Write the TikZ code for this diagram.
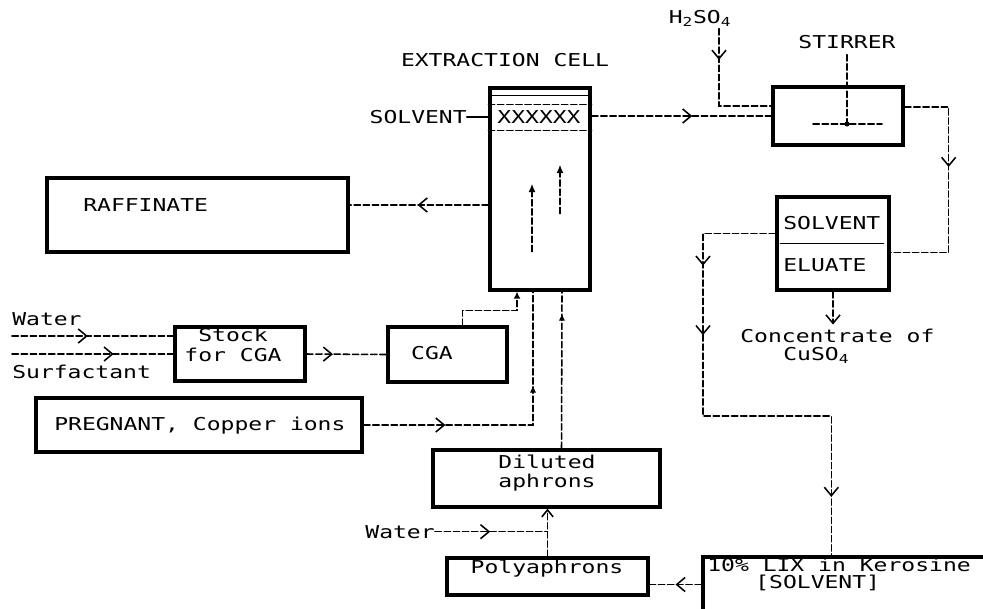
\documentclass[tikz,border=0pt]{standalone}
\usepackage{fontspec}
\newfontfamily\dotfont[FakeStretch=1.3]{DejaVu Sans Mono}
\usetikzlibrary{arrows.meta,calc,decorations.markings}

\begin{document}
\begin{tikzpicture}[x=0.025cm,y=-0.025cm,line cap=round,
  txt/.style={font=\dotfont\fontsize{12.6}{15}\selectfont,inner sep=0pt},
  tank/.style={draw,line width=2.3pt,inner sep=0pt},
  flow/.style={line width=1.1pt,dash pattern=on 4.5pt off 2pt},
  chev at/.style={postaction={decorate,decoration={markings,
    mark=at position #1 with {\arrow{Straight Barb[length=6pt,width=10pt]}}}}},
  up at/.style={postaction={decorate,decoration={markings,
    mark=at position #1 with {\arrow{Latex[length=5pt,width=4.5pt]}}}}}]
\path[fill=white,use as bounding box] (0,0) rectangle (983,608);
% vessels
\node[tank,minimum width=2.5cm,minimum height=5.05cm] (cell) at (540,189) {};
\node[tank,minimum width=3.25cm,minimum height=1.45cm] (stir) at (838,116) {};
\node[tank,minimum width=2.8cm,minimum height=2.325cm] (elu) at (833,243.5) {};
\node[tank,minimum width=7.525cm,minimum height=1.85cm] (raff) at (197.5,215) {};
\node[tank,minimum width=3.25cm,minimum height=1.35cm] (stock) at (240,354) {};
\node[tank,minimum width=2.975cm,minimum height=1.375cm] (cga) at (447.5,354.5) {};
\node[tank,minimum width=8.15cm,minimum height=1.35cm] (preg) at (199,425) {};
\node[tank,minimum width=5.675cm,minimum height=1.425cm] (dil) at (546.5,478.5) {};
\node[tank,minimum width=5.025cm,minimum height=0.925cm] (poly) at (547.5,576.5) {};
\node[tank,minimum width=8cm,minimum height=2.25cm] (lix) at (863,602) {};
% texts
\node[txt,anchor=base] (title) at (505,66.5) {EXTRACTION CELL};
\node[txt,anchor=base east] (solvlbl) at (467,123.5) {SOLVENT};
\node[txt,anchor=base] (xs) at (539,123.5) {XXXXXX};
\node[txt,anchor=base] (acid) at (700,23) {H\textsubscript{2}SO\textsubscript{4}};
\node[txt,anchor=base] (stirlbl) at (847,48.5) {STIRRER};
\node[txt,anchor=base west] (rafflbl) at (83,211.5) {RAFFINATE};
\node[txt,anchor=base west] (solvtop) at (783,229.5) {SOLVENT};
\node[txt,anchor=base west] (eluate) at (783,271.5) {ELUATE};
\node[txt,anchor=base west] (conc) at (740,342.5) {Concentrate of};
\node[txt,anchor=base west] (cuso) at (783,360.5) {CuSO\textsubscript{4}};
\node[txt,anchor=base west] (water) at (12,325.5) {Water};
\node[txt,anchor=base west] (surf) at (12,378.5) {Surfactant};
\node[txt,anchor=base] (stocklbl) at (233,341.5) {Stock};
\node[txt,anchor=base] (forcga) at (233,361.5) {for CGA};
\node[txt,anchor=base] (cgalbl) at (432,359.5) {CGA};
\node[txt,anchor=base west] (preglbl) at (54,430.5) {PREGNANT, Copper ions};
\node[txt,anchor=base] (dillbl) at (547,468) {Diluted};
\node[txt,anchor=base] (aphr) at (547,487) {aphrons};
\node[txt,anchor=base east] (water2) at (435,538) {Water};
\node[txt,anchor=base] (polylbl) at (547,573) {Polyaphrons};
\node[txt,anchor=base west] (lixlbl) at (707,571) {10\% LIX in Kerosine};
\node[txt,anchor=base west] (solvlix) at (755,588) {[SOLVENT]};
% inside the cell
\draw[line width=0.7pt] ($(cell.north west)+(0,9)$) -- ($(cell.north east)+(0,9)$);
\draw[flow] ($(cell.north west)+(0,18)$) -- ($(cell.north east)+(0,18)$);
\draw[flow] ($(cell.north west)+(0,44)$) -- ($(cell.north east)+(0,44)$);
\draw[flow,-{Latex[length=6pt,width=5pt]}] ($(cell.south)+(-8,-40)$) -- ($(cell.south)+(-8,-108)$);
\draw[flow,-{Latex[length=6pt,width=5pt]}] ($(cell.south)+(20,-78)$) -- ($(cell.south)+(20,-127)$);
\draw[line width=1pt] ($(elu.west)+(5,0)$) -- ($(elu.east)+(-7,0)$);
% stirrer
\coordinate (hub) at (847,124);
\draw[flow,shorten <=4pt] (hub |- stirlbl.south) -- (hub);
\draw[flow] ($(hub)+(-34,0)$) -- ($(hub)+(35,0)$);
\fill (hub) circle (1.8pt);
% connectors
\draw[line width=1.6pt] (solvlbl.east) -- (solvlbl.east -| cell.west);
\draw[flow,chev at=0.56] (cell.east |- stir.west) -- (stir.west);
\coordinate (acidin) at ($(acid.south)+(19,2)$);
\draw[flow,chev at=0.24] (acidin) |- ($(stir.west)+(0,-10)$);
\draw[flow,chev at=0.42] ($(stir.east)+(0,-9)$) -| ($(elu.east)+(58,9)$) -- ($(elu.east)+(0,9)$);
\coordinate (lp) at (703,416);
\draw[flow,chev at=0.2,chev at=0.333,chev at=0.888]
  ($(elu.west)+(0,-10)$) -| (lp) -| ($(lix.north west)+(130,0)$);
\draw[flow,-{Straight Barb[length=6pt,width=10pt]},shorten >=3pt] (elu.south) -- (elu.south |- conc.north);
\draw[flow,chev at=0.51] ($(cell.west)+(0,16)$) -- ($(raff.east)+(0,-10)$);
\coordinate (w1) at (12,336);
\coordinate (w2) at (12,354);
\draw[flow,chev at=0.47] (w1) -- (w1 -| stock.west);
\draw[flow,chev at=0.63] (w2) -- (w2 -| stock.west);
\draw[flow,chev at=0.33] (stock.east) -- (cga.west);
\draw[flow,-{Latex[length=5pt,width=5pt]}] ($(cga.north)+(15,0)$) |- ($(cell.south)+(-23,19)$) -- ($(cell.south)+(-23,0)$);
\draw[flow,chev at=0.27,up at=0.69] (preg.east) -| ($(cell.south)+(-7,0)$);
\draw[flow,up at=0.86] ($(dil.north)+(15,0)$) -- ($(cell.south)+(22,0)$);
\draw[flow,-{Straight Barb[length=5pt,width=8pt]}] (poly.north) -- (poly.north |- dil.south);
\draw[flow,chev at=0.49] (water2.east) -- (water2.east -| poly.north);
\coordinate (pe) at ($(poly.east)+(0,8)$);
\draw[flow,chev at=0.5] (pe -| lix.west) -- (pe);
\end{tikzpicture}
\end{document}
